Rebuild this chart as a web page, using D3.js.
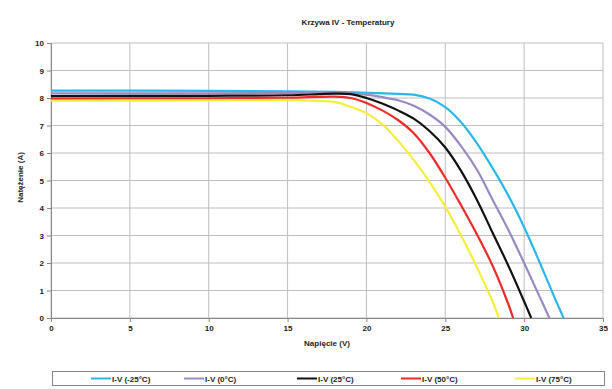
<!DOCTYPE html>
<html>
<head>
<meta charset="utf-8">
<script src="https://cdn.jsdelivr.net/npm/d3@7"></script>
<style>
  body { margin: 0; background: #fff; }
  text { font-family: "Liberation Sans", Arial, sans-serif; font-weight: bold; fill: #222; }
</style>
</head>
<body>
<div id="chart"></div>
<script>
/* CONSTANTS AND GLOBALS */
const width = 612,
  height = 389,
  margin = { top: 43, bottom: 71, left: 51, right: 9 };

// series labels and colours
const seriesNames = ["I-V (-25°C)", "I-V (0°C)", "I-V (25°C)", "I-V (50°C)", "I-V (75°C)"];
const seriesColors = ["#2bb8e8", "#9b89c2", "#111111", "#ee2b2b", "#f4ee3c"];

// voltage (V) / current (A) points
const voltsM25 = [0, 10, 15, 18, 20, 22, 23, 24, 25, 26, 27, 28, 29, 30, 31, 32, 32.5];
const ampsM25  = [8.27, 8.26, 8.24, 8.22, 8.19, 8.15, 8.12, 7.98, 7.67, 7.12, 6.36, 5.45, 4.45, 3.3, 2.0, 0.65, 0];

const volts0 = [0, 10, 15, 18, 20, 21, 22, 23, 24, 25, 26, 27, 28, 29, 30, 31, 31.6];
const amps0  = [8.17, 8.17, 8.18, 8.2, 8.12, 8.03, 7.92, 7.72, 7.4, 6.95, 6.25, 5.4, 4.3, 3.2, 2.0, 0.75, 0];

const volts25 = [0, 10, 15, 17, 18, 19, 20, 21, 22, 23, 24, 25, 26, 27, 28, 29, 30, 30.45];
const amps25  = [8.07, 8.08, 8.1, 8.14, 8.16, 8.14, 8.0, 7.8, 7.55, 7.25, 6.8, 6.2, 5.35, 4.3, 3.1, 1.9, 0.6, 0];

const volts50 = [0, 10, 15, 18, 19, 20, 21, 22, 23, 24, 25, 26, 27, 28, 29, 29.3];
const amps50  = [7.98, 7.99, 8.01, 8.05, 8.0, 7.82, 7.55, 7.2, 6.72, 6.0, 5.1, 4.1, 3.05, 1.9, 0.5, 0];

const volts75 = [0, 10, 15, 18, 19, 20, 21, 22, 23, 24, 25, 26, 27, 28, 28.4];
const amps75  = [7.9, 7.91, 7.92, 7.85, 7.68, 7.45, 7.05, 6.45, 5.75, 4.95, 4.05, 3.0, 1.85, 0.6, 0];

const xTicks = [0, 5, 10, 15, 20, 25, 30, 35];
const yTicks = [0, 1, 2, 3, 4, 5, 6, 7, 8, 9, 10];

const series = [
  [voltsM25, ampsM25],
  [volts0, amps0],
  [volts25, amps25],
  [volts50, amps50],
  [volts75, amps75]
].map(([v, a], i) => ({
  name: seriesNames[i],
  color: seriesColors[i],
  points: v.map((d, j) => ({ v: d, a: a[j] }))
}));

const svg = d3.select("#chart")
  .append("svg")
  .attr("width", width)
  .attr("height", height);

const xScale = d3.scaleLinear().domain([0, 35]).range([margin.left, width - margin.right]);
const yScale = d3.scaleLinear().domain([0, 10]).range([height - margin.bottom, margin.top]);

// gridlines
svg.append("g")
  .selectAll("line")
  .data(yTicks)
  .join("line")
  .attr("x1", xScale(0)).attr("x2", xScale(35))
  .attr("y1", d => yScale(d)).attr("y2", d => yScale(d))
  .attr("stroke", "#bebebe");

svg.append("g")
  .selectAll("line")
  .data(xTicks)
  .join("line")
  .attr("y1", yScale(0)).attr("y2", yScale(10))
  .attr("x1", d => xScale(d)).attr("x2", d => xScale(d))
  .attr("stroke", "#bebebe");

// axes
const xAxis = svg.append("g")
  .attr("transform", `translate(0,${yScale(0)})`)
  .call(d3.axisBottom(xScale).tickValues(xTicks).tickSize(4).tickPadding(3));

const yAxis = svg.append("g")
  .attr("transform", `translate(${xScale(0)},0)`)
  .call(d3.axisLeft(yScale).tickValues(yTicks).tickSize(4).tickPadding(3));

[xAxis, yAxis].forEach(ax => {
  ax.select(".domain").attr("stroke", "#888");
  ax.selectAll(".tick line").attr("stroke", "#888");
  ax.selectAll("text").attr("font-size", 8).attr("font-family", null).attr("fill", "#222");
});

// curves
const lineFunc = d3.line()
  .x(d => xScale(d.v))
  .y(d => yScale(d.a))
  .curve(d3.curveCatmullRom.alpha(0.5));

svg.append("g")
  .selectAll("path")
  .data(series)
  .join("path")
  .attr("fill", "none")
  .attr("stroke", d => d.color)
  .attr("stroke-width", 2.2)
  .attr("d", d => lineFunc(d.points));

// titles
svg.append("text")
  .attr("x", 348).attr("y", 25)
  .attr("text-anchor", "middle")
  .attr("font-size", 8)
  .text("Krzywa IV - Temperatury");

svg.append("text")
  .attr("x", (xScale(0) + xScale(35)) / 2).attr("y", 346)
  .attr("text-anchor", "middle")
  .attr("font-size", 8)
  .text("Napięcie (V)");

svg.append("text")
  .attr("transform", `translate(23,${(yScale(0) + yScale(10)) / 2 - 3}) rotate(-90)`)
  .attr("text-anchor", "middle")
  .attr("font-size", 8)
  .text("Natężenie (A)");

// legend
svg.append("rect")
  .attr("x", 52.5).attr("y", 371.5)
  .attr("width", 552).attr("height", 14)
  .attr("fill", "#fff")
  .attr("stroke", "#888");

const legendX = [91, 184, 297, 401, 515];
const legend = svg.append("g")
  .selectAll("g")
  .data(series)
  .join("g")
  .attr("transform", (d, i) => `translate(${legendX[i]},378.5)`);

legend.append("line")
  .attr("x1", 0).attr("x2", 20)
  .attr("stroke", d => d.color)
  .attr("stroke-width", 2);

legend.append("text")
  .attr("x", 21).attr("y", 3)
  .attr("font-size", 8)
  .text(d => d.name);
</script>
</body>
</html>
